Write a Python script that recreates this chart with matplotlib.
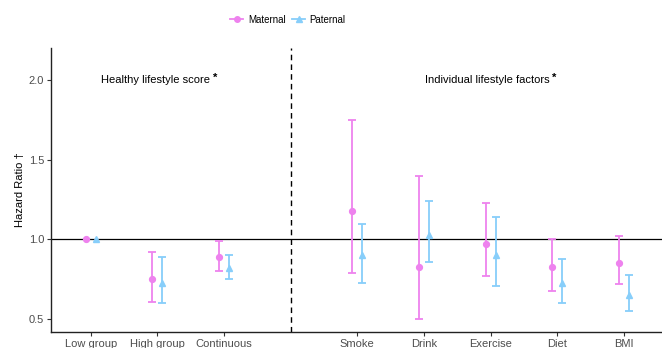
import numpy as np
import matplotlib
matplotlib.use("Agg")
import matplotlib.pyplot as plt
from matplotlib.lines import Line2D

plt.rcParams['font.family'] = ['Liberation Sans', 'DejaVu Sans']

categories = ["Low group", "High group", "Continuous", "Smoke", "Drink", "Exercise", "Diet", "BMI"]
positions = [1, 2, 3, 5, 6, 7, 8, 9]

maternal_hr = [1.00, 0.75, 0.89, 1.18, 0.83, 0.97, 0.83, 0.85]
maternal_lo = [1.00, 0.61, 0.80, 0.79, 0.50, 0.77, 0.68, 0.72]
maternal_hi = [1.00, 0.92, 0.99, 1.75, 1.40, 1.23, 1.00, 1.02]

paternal_hr = [1.00, 0.73, 0.82, 0.90, 1.03, 0.90, 0.73, 0.65]
paternal_lo = [1.00, 0.60, 0.75, 0.73, 0.86, 0.71, 0.60, 0.55]
paternal_hi = [1.00, 0.89, 0.90, 1.10, 1.24, 1.14, 0.88, 0.78]

yticks = [0.5, 1.0, 1.5, 2.0]

mat_color = "#EE82EE"
pat_color = "#87CEFA"

fig = plt.figure(figsize=(6.62, 3.48), dpi=100)
ax = fig.add_axes([51/662, 16/348, 1 - 51/662, (332-48)/348])

dodge = 0.075
pos = np.array(positions, dtype=float)

def draw(hr, lo, hi, offset, color, marker, ms):
    hr = np.array(hr); lo = np.array(lo); hi = np.array(hi)
    x = pos + offset
    has_ci = hi > lo
    ax.errorbar(x[has_ci], hr[has_ci],
                yerr=[hr[has_ci] - lo[has_ci], hi[has_ci] - hr[has_ci]],
                fmt='none', ecolor=color, elinewidth=1.3, capsize=2.8,
                capthick=1.3, zorder=3)
    ax.plot(x, hr, linestyle='none', marker=marker, color=color,
            markersize=ms, zorder=4)

ax.axhline(1.0, color='black', linewidth=0.9, zorder=2)
ax.axvline(4, color='black', linewidth=1.0, linestyle=(0, (4, 3)), zorder=2)

draw(maternal_hr, maternal_lo, maternal_hi, -dodge, mat_color, 'o', 4.2)
draw(paternal_hr, paternal_lo, paternal_hi, dodge, pat_color, '^', 5.0)

ax.set_xlim(0.405, 9.57)
ax.set_ylim(0.42, 2.2)
ax.set_xticks(positions)
ax.set_xticklabels(categories)
ax.set_yticks(yticks)
ax.set_yticklabels([f"{v:.1f}" for v in yticks])
ax.tick_params(axis='both', labelsize=8, colors='#333333', labelcolor='#4D4D4D',
               length=3, width=0.8, pad=2)
for s in ['top', 'right']:
    ax.spines[s].set_visible(False)
for s in ['left', 'bottom']:
    ax.spines[s].set_linewidth(1.0)
    ax.spines[s].set_color('#222222')

ax.set_ylabel("Hazard Ratio \u2020", fontsize=8, color='black', labelpad=3)

t1 = ax.text(1.98, 2.0, "Healthy lifestyle score", fontsize=8, ha='center', va='center')
ax.annotate("*", xy=(1, 0.75), xycoords=t1, xytext=(2, 0), textcoords='offset points',
            fontsize=8, ha='left', va='center', fontweight='bold')
t2 = ax.text(6.95, 2.0, "Individual lifestyle factors", fontsize=8, ha='center', va='center')
ax.annotate("*", xy=(1, 0.75), xycoords=t2, xytext=(2, 0), textcoords='offset points',
            fontsize=8, ha='left', va='center', fontweight='bold')

handles = [
    Line2D([], [], color=mat_color, marker='o', markersize=4.0, linewidth=1.3),
    Line2D([], [], color=pat_color, marker='^', markersize=4.8, linewidth=1.3),
]
fig.legend(handles, ["Maternal", "Paternal"], loc='center', bbox_to_anchor=(0.435, 0.943),
           ncol=2, frameon=False, fontsize=7, handlelength=1.3, handletextpad=0.5,
           columnspacing=0.7)

fig.savefig("out.png", dpi=100)
